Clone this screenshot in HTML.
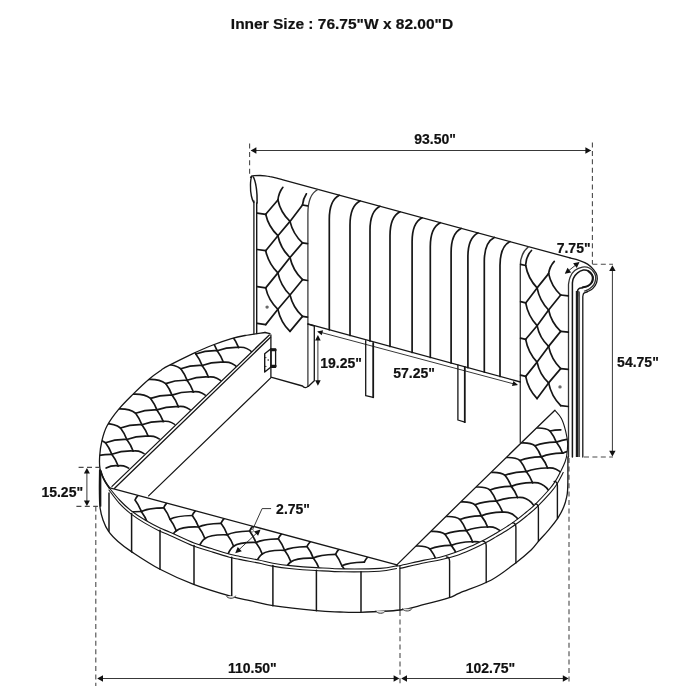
<!DOCTYPE html>
<html><head><meta charset="utf-8"><title>Bed dimensions</title>
<style>
html,body{margin:0;padding:0;background:#fff;}
body{width:700px;height:700px;overflow:hidden;position:relative;font-family:"Liberation Sans",Arial,sans-serif;}
svg{position:absolute;left:0;top:0;display:block;will-change:transform;transform:translateZ(0);}
svg path, svg line{fill:none;stroke:#161616;stroke-linecap:round;stroke-linejoin:round;}
svg text{font-family:"Liberation Sans",Arial,sans-serif;font-weight:bold;fill:#111;stroke:#111;stroke-width:0.2px;stroke-linejoin:round;}
.dim{stroke:#383838 !important;}
.dash{stroke:#4a4a4a !important;stroke-dasharray:5 3.4;stroke-linecap:butt !important;}
</style></head>
<body>
<svg width="700" height="700" viewBox="0 0 700 700">
<rect x="0" y="0" width="700" height="700" fill="#fff"/>
<text x="342" y="29" font-size="15.5" text-anchor="middle">Inner Size : 76.75&quot;W x 82.00&quot;D</text>
<text x="414.3" y="144" font-size="14" text-anchor="start">93.50&quot;</text>
<text x="556.7" y="252.5" font-size="14" text-anchor="start">7.75&quot;</text>
<text x="617.1" y="367.1" font-size="14" text-anchor="start">54.75&quot;</text>
<text x="320.2" y="367.9" font-size="14" text-anchor="start">19.25&quot;</text>
<text x="393.3" y="377.8" font-size="14" text-anchor="start">57.25&quot;</text>
<text x="41.4" y="496.9" font-size="14" text-anchor="start">15.25&quot;</text>
<text x="276.1" y="514" font-size="14" text-anchor="start">2.75&quot;</text>
<text x="228" y="673.1" font-size="14" text-anchor="start">110.50&quot;</text>
<text x="465.7" y="672.9" font-size="14" text-anchor="start">102.75&quot;</text>
<path class="dim" d="M252,150.5 L590,150.5" stroke-width="1"/>
<polygon points="250.6,150.5 256.4,147.3 256.4,153.7" fill="#111" stroke="none"/>
<polygon points="591.2,150.5 585.4,153.7 585.4,147.3" fill="#111" stroke="none"/>
<path class="dash" d="M249.6,143.5 L249.6,176" stroke-width="1.1"/>
<path class="dash" d="M592.4,142.5 L592.4,264" stroke-width="1.1"/>
<path class="dash" d="M592.4,264.3 L613,264.3" stroke-width="1.1"/>
<path class="dash" d="M584,457 L613,457" stroke-width="1.1"/>
<path class="dim" d="M612.4,268 L612.4,454" stroke-width="1"/>
<polygon points="612.4,265.2 615.6,271 609.2,271" fill="#111" stroke="none"/>
<polygon points="612.4,456.5 609.2,450.7 615.6,450.7" fill="#111" stroke="none"/>
<path class="dim" d="M566,272.8 L578.3,263" stroke-width="1"/>
<polygon points="564.8,273.8 567.5,267.8 571.2,272.5" fill="#111" stroke="none"/>
<polygon points="579.5,261.9 576.8,267.9 573.1,263.2" fill="#111" stroke="none"/>
<path class="dim" d="M317.9,338 L317.9,383" stroke-width="1"/>
<polygon points="317.9,335 320.7,340.5 315.1,340.5" fill="#111" stroke="none"/>
<polygon points="317.9,385.7 315.1,380.2 320.7,380.2" fill="#111" stroke="none"/>
<path class="dim" d="M319,331.9 L516,384.5" stroke-width="1"/>
<polygon points="317.1,331.4 323.1,330.3 321.7,335.3" fill="#111" stroke="none"/>
<polygon points="518,385 512,386.1 513.4,381.1" fill="#111" stroke="none"/>
<path class="dash" d="M78.6,467.4 L99.3,467.4" stroke-width="1.1"/>
<path class="dash" d="M76.4,506.4 L97.9,506.4" stroke-width="1.1"/>
<path class="dim" d="M86.9,470 L86.9,504" stroke-width="1"/>
<polygon points="86.9,467.9 89.9,473.6 83.9,473.6" fill="#111" stroke="none"/>
<polygon points="86.9,506.1 83.9,500.4 89.9,500.4" fill="#111" stroke="none"/>
<path class="dim" d="M270.7,508.6 L262.1,508.6 L252.1,530.7" stroke-width="1"/>
<circle cx="252.1" cy="530.7" r="1.4" fill="#fff" stroke="#333" stroke-width="0.6"/>
<path class="dim" d="M258.5,531.4 L237.2,551.4" stroke-width="1"/>
<polygon points="260.6,529.4 258.1,535.8 254,531.5" fill="#111" stroke="none"/>
<polygon points="235.2,553.3 237.7,546.9 241.8,551.2" fill="#111" stroke="none"/>
<path class="dash" d="M95.8,506.4 L95.8,686" stroke-width="1.1"/>
<path class="dash" d="M400,611 L400,685" stroke-width="1.1"/>
<path class="dash" d="M569,458 L569,684" stroke-width="1.1"/>
<path class="dim" d="M99,678.5 L397,678.5" stroke-width="1"/>
<polygon points="97.2,678.5 103,675.3 103,681.7" fill="#111" stroke="none"/>
<polygon points="399.4,678.5 393.6,681.7 393.6,675.3" fill="#111" stroke="none"/>
<path class="dim" d="M403,678.5 L566,678.5" stroke-width="1"/>
<polygon points="401.2,678.5 407,675.3 407,681.7" fill="#111" stroke="none"/>
<polygon points="568.6,678.5 562.8,681.7 562.8,675.3" fill="#111" stroke="none"/>
<path d="M250.6,177.4 C250.8,177.2 251,176.5 251.6,176.2 C252.2,175.9 252.9,175.8 254.3,175.7 C255.7,175.6 258.2,175.5 260,175.5 C261.8,175.5 263.3,175.6 265,175.8 C266.7,176 268.2,176.2 270,176.6 C271.8,176.9 273.5,177.3 275.7,177.9 C277.9,178.5 281.8,179.6 283,179.9 L570,257.9" stroke-width="1.3"/>
<path d="M570,257.9 C571.5,258.3 576.1,259.3 579,260.3 C581.9,261.3 585.2,262.5 587.6,264.1 C590,265.7 592,267.8 593.6,269.7 C595.2,271.6 596.5,273.5 597,275.7 C597.5,277.9 597.3,280.5 596.6,282.6 C595.9,284.8 594.2,287.1 592.7,288.6 C591.2,290.1 589.1,290.8 587.6,291.6 C586.1,292.4 584.6,292.5 583.8,293.3 C583,294.1 583,296 582.8,296.5 L582.8,457" stroke-width="1.3"/>
<path d="M568.5,457 L568.5,284.3  C568.8,283.1 569,279.7 570,277.4 C571,275.1 572.6,272.3 574.7,270.6 C576.8,268.9 580,267.5 582.4,267.1 C584.8,266.7 587.3,267 589.3,268 C591.3,269 593.3,271.4 594.4,273.1 C595.5,274.8 595.8,276.4 595.7,278.3 C595.6,280.2 595.1,282.5 594,284.3 C592.9,286.1 590.9,287.9 589.3,289 C587.7,290.1 585.3,290.7 584.5,291" stroke-width="1.3" style="stroke:#333"/>
<path d="M572.4,457 L572.4,283  C572.6,282.2 572.6,279.9 573.4,278.3 C574.2,276.7 575.6,274.5 577.3,273.1 C578.9,271.7 581.4,270.5 583.3,270.1 C585.1,269.8 586.9,270.2 588.4,271 C589.9,271.8 591.5,273.5 592.3,274.9 C593.1,276.2 593.2,277.7 593.1,279.1 C593,280.5 592.3,282.2 591.4,283.4 C590.5,284.6 589.1,285.7 587.6,286.4 C586.1,287.1 583.8,287.3 582.4,287.7 C581,288.1 579.8,288.1 579,288.6 C578.2,289.1 577.8,290.2 577.6,290.5 L577.6,296" stroke-width="1.5"/>
<path d="M588.4,271.2 C589,271.8 591.3,273.7 592,275 C592.7,276.3 592.8,277.7 592.6,279.1 C592.4,280.5 591.9,282.1 591,283.2 C590.1,284.3 588.8,285.3 587.4,286 C586,286.7 583.2,287.1 582.4,287.3" stroke-width="1.8"/>
<path d="M577.2,291 L577.2,457" stroke-width="2.8" style="stroke:#1c1c1c;stroke-linecap:butt"/>
<path d="M579.3,291.5 L579.3,457" stroke-width="1.5" style="stroke:#555;stroke-linecap:butt"/>
<path d="M251.8,176.6 C250.2,179 250,190 251.4,196 C252,199 252.8,201 253.8,202.5" stroke-width="1.4"/>
<path d="M253.4,177 C255.4,181 256.6,188 257,195 L257.1,203" stroke-width="1.5"/>
<path d="M253.9,201 L253.9,333.5" stroke-width="1.3"/>
<path d="M256.7,203 L256.7,333.5" stroke-width="1.4"/>
<path d="M307.9,386.4 L307.9,213.5 C307.9,201.5 310.9,193 317.9,189.5" stroke-width="1.3" style="stroke:#3c3c3c"/>
<path d="M329.3,329.8 L329.3,219.3 C329.3,207.3 332.3,198.8 339.3,195.3" stroke-width="1.7"/>
<path d="M350,335.4 L350,224.9 C350,212.9 353,204.4 360,200.9" stroke-width="1.7"/>
<path d="M370,340.9 L370,230.3 C370,218.3 373,209.8 380,206.3" stroke-width="1.7"/>
<path d="M390,346.4 L390,235.8 C390,223.8 393,215.3 400,211.8" stroke-width="1.7"/>
<path d="M412.1,352.4 L412.1,241.8 C412.1,229.8 415.1,221.3 422.1,217.8" stroke-width="1.7"/>
<path d="M430.3,357.4 L430.3,246.7 C430.3,234.7 433.3,226.2 440.3,222.7" stroke-width="1.7"/>
<path d="M451.1,363.1 L451.1,252.4 C451.1,240.4 454.1,231.9 461.1,228.4" stroke-width="1.7"/>
<path d="M467.9,367.7 L467.9,256.9 C467.9,244.9 470.9,236.4 477.9,232.9" stroke-width="1.7"/>
<path d="M484.3,372.1 L484.3,261.4 C484.3,249.4 487.3,240.9 494.3,237.4" stroke-width="1.7"/>
<path d="M500,376.4 L500,265.6 C500,253.6 503,245.1 510,241.6" stroke-width="1.7"/>
<path d="M520.3,442.5 L520.3,266 C520.3,258 523,251 528.5,246.7" stroke-width="1.4" style="stroke:#3c3c3c"/>
<path d="M525.7,264.5 C526.2,258 528,254 531.5,250.5" stroke-width="1.7"/>
<path d="M307.9,323.9 L520.4,382" stroke-width="1.3"/>
<path d="M307.9,324.2 L314.3,326 L314.3,380.7 L308.5,386.2" stroke-width="1.3"/>
<path d="M270.9,335 L270.9,377.2 L302.5,386 C304,388 306.5,388 307.9,386.4" stroke-width="1.3"/>
<path d="M365.7,340.7 L365.7,395.7 L373.2,397.3" stroke-width="1.3"/>
<path d="M373.2,342.9 L373.2,397.3" stroke-width="1.8"/>
<path d="M457.9,365 L457.9,420 L464.8,422.2" stroke-width="1.3"/>
<path d="M464.8,367 L464.8,422.2" stroke-width="1.8"/>
<path d="M264.7,353.8 L271,348.7 L271,367 L264.7,372 Z" stroke-width="1.4"/>
<path d="M271,348.8 L275.6,348.8 L275.6,367.3 L271,367.3" stroke-width="1.3"/>
<path d="M271.6,350 L275.4,350 M271.6,365.9 L275.4,365.9" stroke-width="2.4"/>
<circle cx="268.2" cy="360" r="0.8" fill="#222"/>
<circle cx="265.8" cy="366.4" r="0.7" fill="#222"/>
<circle cx="265.8" cy="357.6" r="0.7" fill="#222"/>
<path d="M265.7,214.3 L277.9,200" stroke-width="1.7"/>
<path d="M265.7,214.3 Q268.5,226.9 277.9,235.7" stroke-width="1.7"/>
<path d="M265.7,250.7 L277.9,235.7" stroke-width="1.7"/>
<path d="M265.7,250.7 Q268.5,263.6 277.9,272.9" stroke-width="1.7"/>
<path d="M265.7,287.9 L277.9,272.9" stroke-width="1.7"/>
<path d="M265.7,287.9 Q268.5,300.5 277.9,309.3" stroke-width="1.7"/>
<path d="M265.7,324.6 L277.9,309.3" stroke-width="1.7"/>
<path d="M277.9,200 Q280.6,212.6 290,221.4" stroke-width="1.7"/>
<path d="M277.9,235.7 L290,221.4" stroke-width="1.7"/>
<path d="M277.9,235.7 Q280.6,248.4 290,257.5" stroke-width="1.7"/>
<path d="M277.9,272.9 L290,257.5" stroke-width="1.7"/>
<path d="M277.9,272.9 Q280.6,285.8 290,295" stroke-width="1.7"/>
<path d="M277.9,309.3 L290,295" stroke-width="1.7"/>
<path d="M277.9,309.3 Q280.6,322.2 290,331.4" stroke-width="1.7"/>
<path d="M290,221.4 L302.5,205" stroke-width="1.7"/>
<path d="M290,221.4 Q293,234.1 302.5,242.9" stroke-width="1.7"/>
<path d="M290,257.5 L302.5,242.9" stroke-width="1.7"/>
<path d="M290,257.5 Q292.9,270.5 302.5,279.7" stroke-width="1.7"/>
<path d="M290,295 L302.5,279.7" stroke-width="1.7"/>
<path d="M290,295 Q293,307.6 302.5,316.4" stroke-width="1.7"/>
<path d="M290,331.4 L302.5,316.4" stroke-width="1.7"/>
<path d="M257.2,213.1 L265.7,214.3" stroke-width="1.7"/>
<path d="M257.2,249.5 L265.7,250.7" stroke-width="1.7"/>
<path d="M257.2,286.7 L265.7,287.9" stroke-width="1.7"/>
<path d="M257.2,323.4 L265.7,324.6" stroke-width="1.7"/>
<path d="M302.5,205 L307.5,205.8" stroke-width="1.7"/>
<path d="M302.5,242.9 L307.5,243.7" stroke-width="1.7"/>
<path d="M302.5,279.7 L307.5,280.5" stroke-width="1.7"/>
<path d="M302.5,316.4 L307.5,317.2" stroke-width="1.7"/>
<path d="M277.9,200 C278.5,195 280,191 282.9,187.3" stroke-width="1.7"/>
<path d="M302.5,205 C303,200 304.3,197 306.4,193.8" stroke-width="1.7"/>
<circle cx="267.1" cy="307.1" r="1.7" fill="#6a6a6a"/>
<path d="M525.7,265.5 Q528,278.4 537.1,287.9" stroke-width="1.7"/>
<path d="M525.7,302.9 L537.1,287.9" stroke-width="1.7"/>
<path d="M525.7,302.9 Q528,316 537.1,325.7" stroke-width="1.7"/>
<path d="M525.7,339.3 L537.1,325.7" stroke-width="1.7"/>
<path d="M525.7,339.3 Q528,352.4 537.1,362.1" stroke-width="1.7"/>
<path d="M525.7,376.4 L537.1,362.1" stroke-width="1.7"/>
<path d="M525.7,376.4 Q528,389.2 537.1,398.6" stroke-width="1.7"/>
<path d="M537.1,287.9 L548.6,273.6" stroke-width="1.7"/>
<path d="M537.1,287.9 Q539.5,300.7 548.6,310" stroke-width="1.7"/>
<path d="M537.1,325.7 L548.6,310" stroke-width="1.7"/>
<path d="M537.1,325.7 Q539.5,337.9 548.6,346.4" stroke-width="1.7"/>
<path d="M537.1,362.1 L548.6,346.4" stroke-width="1.7"/>
<path d="M537.1,362.1 Q539.5,374.3 548.6,382.9" stroke-width="1.7"/>
<path d="M537.1,398.6 L548.6,382.9" stroke-width="1.7"/>
<path d="M548.6,273.6 Q551.3,286.2 560.7,295" stroke-width="1.7"/>
<path d="M548.6,310 L560.7,295" stroke-width="1.7"/>
<path d="M548.6,310 Q551.3,322.6 560.7,331.4" stroke-width="1.7"/>
<path d="M548.6,346.4 L560.7,331.4" stroke-width="1.7"/>
<path d="M548.6,346.4 Q551.3,359.3 560.7,368.6" stroke-width="1.7"/>
<path d="M548.6,382.9 L560.7,368.6" stroke-width="1.7"/>
<path d="M548.6,382.9 Q551.3,396.1 560.7,405.7" stroke-width="1.7"/>
<path d="M520.6,264.3 L525.7,265.5" stroke-width="1.7"/>
<path d="M520.6,301.7 L525.7,302.9" stroke-width="1.7"/>
<path d="M520.6,338.1 L525.7,339.3" stroke-width="1.7"/>
<path d="M520.6,375.2 L525.7,376.4" stroke-width="1.7"/>
<path d="M560.7,295 L568.3,295.8" stroke-width="1.7"/>
<path d="M560.7,331.4 L568.3,332.2" stroke-width="1.7"/>
<path d="M560.7,368.6 L568.3,369.4" stroke-width="1.7"/>
<path d="M560.7,405.7 L568.3,406.5" stroke-width="1.7"/>
<path d="M548.6,273.6 C549.3,269 551,265 554.3,261.4" stroke-width="1.7"/>
<circle cx="560" cy="386.9" r="1.7" fill="#6a6a6a"/>
<path d="M265,332.5 C261.7,333 250.6,334.5 245,335.5 C239.4,336.5 236.8,337 231.4,338.6 C226.1,340.2 219.3,342.5 212.9,345 C206.5,347.5 200.3,350.2 192.9,353.6 C185.5,357.1 173.8,363 168.6,365.7 C163.3,368.4 164.6,367.8 161.4,370 C158.2,372.2 153.9,375 149.3,378.9 C144.7,382.8 138.7,388.5 133.6,393.6 C128.5,398.7 123,404 118.6,409.3 C114.2,414.6 109.8,420.6 107.1,425.7 C104.3,430.8 103.3,435 102.1,440 C100.9,445 100,450.9 99.7,455.7 C99.4,460.5 99.2,464.6 100,468.6 C100.8,472.7 102.8,476.8 104.3,480 C105.8,483.2 108.5,486.3 109.3,487.6" stroke-width="1.3"/>
<path d="M270,333.6 L265,332.5" stroke-width="1.3"/>
<path d="M109.1,487.6 C110.9,489.8 116.3,496.6 120,500.5 C123.7,504.4 127.3,507.8 131.5,511 C135.7,514.2 140.2,517.2 145,520 C149.8,522.8 155.8,526 160,528 C164.2,530 164.3,529.8 170,532.3 C175.7,534.8 187.1,540.4 194,543.1 C200.9,545.8 205.4,546.7 211.4,548.6 C217.4,550.5 225.2,553 230,554.3 C234.8,555.6 235.2,555.5 240,556.5 C244.8,557.5 253.1,558.9 258.6,560 C264.1,561.1 267.7,562.3 272.9,563.2 C278.1,564.1 282.8,564.9 290,565.6 C297.2,566.3 307.3,567.1 316.4,567.6 C325.4,568.1 333.7,568.8 344.3,568.9 C354.9,569 371.2,568.9 380,568.4 C388.8,567.9 394.3,566.1 397.2,565.6" stroke-width="1.1"/>
<path d="M109,490 C110.7,492.2 115.8,499.4 119.4,503.4 C123.1,507.4 126.7,510.6 130.9,513.9 C135.1,517.1 139.7,520.1 144.4,522.9 C149.2,525.7 155.2,528.9 159.4,530.9 C163.6,532.9 163.7,532.7 169.4,535.2 C175.1,537.7 186.5,543.3 193.4,546 C200.3,548.7 204.8,549.6 210.8,551.5 C216.8,553.4 224.6,555.9 229.4,557.2 C234.2,558.5 234.6,558.4 239.4,559.4 C244.2,560.4 252.5,561.8 258,562.9 C263.5,564 267.1,565.2 272.3,566.1 C277.5,567 282.1,567.8 289.4,568.5 C296.6,569.2 306.7,570 315.8,570.5 C324.8,571 333.1,571.7 343.7,571.8 C354.3,571.9 370.6,571.8 379.4,571.3 C388.2,570.8 393.7,569 396.6,568.5" stroke-width="1.1"/>
<path d="M397.2,565.6 C397.6,565.6 394.9,566.6 399.4,565.7 C403.9,564.8 417.5,561.5 424.3,560.1 C431.1,558.7 434.9,558.5 440,557.2 C445.1,556 450,554.4 455,552.6 C460,550.8 465,548.8 470,546.6 C475,544.4 480.8,541.5 485,539.4 C489.2,537.2 491.4,535.8 495,533.7 C498.6,531.6 502.6,529.4 506.4,526.9 C510.2,524.4 514.6,521.4 517.9,518.9 C521.2,516.4 523.5,514.4 526.4,512 C529.2,509.6 531.3,508.3 535,504.6 C538.7,500.9 545.3,493.9 548.7,490 C552.1,486.1 553.3,484.4 555.4,481.1 C557.5,477.8 559.8,473.2 561.4,470 C563,466.8 564.1,464.5 565,462 C565.9,459.5 566.4,458.2 566.8,455 C567.2,451.8 567.8,446.9 567.6,443 C567.4,439.1 566.7,435.5 565.7,431.4 C564.7,427.3 563.2,422.1 561.4,418.6 C559.6,415.1 556.1,411.9 555,410.5" stroke-width="1.1"/>
<path d="M400,568.4 C404.1,567.5 418.1,564.1 424.9,562.7 C431.7,561.3 435.4,561 440.6,559.8 C445.8,558.7 450.9,557.5 456,555.8 C461.1,554.1 466,552 471,549.8 C476,547.6 481.8,544.8 486,542.6 C490.2,540.5 492.3,539.1 496,536.9 C499.7,534.7 504.2,532.1 508.2,529.5 C512.1,526.9 516.4,524 519.7,521.5 C523,519 525.3,517 528.2,514.6 C531,512.2 533.1,510.9 536.8,507.2 C540.5,503.5 547.1,496.5 550.5,492.6 C553.9,488.7 555.1,487 557.2,483.7 C559.3,480.4 562.2,474.5 563.2,472.6" stroke-width="1.1"/>
<path d="M109.1,487.6 L396.9,564.9" stroke-width="1.3"/>
<path d="M112,486.4 L269.3,335" stroke-width="1.3"/>
<path d="M114.6,488.2 L270.5,337.3" stroke-width="1.3"/>
<path d="M148.6,495.9 L271,377.6" stroke-width="1.3"/>
<path d="M396.9,564.9 Q475.4,487.0 554.9,410.3" stroke-width="1.3"/>
<path d="M99.6,470 C99.6,473.3 99.3,483.8 99.4,490 C99.5,496.2 99.4,502.1 100,507.1 C100.6,512.1 101.6,516 103,520 C104.4,524 106.1,527.8 108.6,531.4 C111.1,535 114.2,538.1 118,541.5 C121.8,544.9 124.4,547 131.4,551.6 C138.4,556.2 149.6,563.8 160,569.3 C170.4,574.8 181.7,579.8 193.6,584.3 C205.5,588.8 222,593.7 231.4,596.4 C240.8,599.1 243.1,599.2 250,600.7 C256.9,602.2 261.8,604 272.9,605.7 C284,607.4 305.2,609.7 316.4,610.7 C327.6,611.8 332.7,611.7 340,612 C347.3,612.3 349.9,612.6 360,612.3 C370.1,612 389.6,611.3 400.3,610 C411,608.7 416.2,606.4 424.3,604.4 C432.4,602.4 442.7,599.8 448.6,597.9 C454.6,596 452.9,595.9 460,592.9 C467.1,589.9 482.1,585 491.4,580 C500.7,575 509.1,567.9 515.7,562.9 C522.3,557.9 527.3,553.6 531.1,550 C534.9,546.4 535.5,544.7 538.4,541.4 C541.3,538.1 545.1,534.1 548.3,530.3 C551.5,526.4 555.1,522.2 557.7,518.3 C560.3,514.4 562.2,510.7 563.7,507.1 C565.2,503.5 566.1,499.8 566.7,496.9 C567.4,494 567.4,493.6 567.6,490 C567.8,486.4 567.9,480.5 567.9,475 C567.9,469.5 567.9,460 567.9,457" stroke-width="1.3"/>
<path d="M100.5,471.5 L100.5,506" stroke-width="1.7"/>
<path d="M100.6,470.5 C100.9,471.4 101.6,474.1 102.4,476 C103.2,477.9 104.1,479.6 105.2,481.6 C106.3,483.6 108.5,486.8 109.2,487.8" stroke-width="1.7"/>
<path d="M109,493 L109,531.2" stroke-width="1.5"/>
<path d="M131.6,513.5 L131.6,552.1" stroke-width="1.5"/>
<path d="M160,530.3 L160,569.3" stroke-width="1.5"/>
<path d="M194,545.6 L194,584.3" stroke-width="1.5"/>
<path d="M231.7,557.2 L231.7,596.4" stroke-width="1.5"/>
<path d="M272.9,565.6 L272.9,605.7" stroke-width="1.5"/>
<path d="M316.4,570.2 L316.4,610.7" stroke-width="1.5"/>
<path d="M361,571.8 L361,611.5" stroke-width="1.5"/>
<path d="M446.4,557 Q449.4,556.8 449.6,561.2 L449.6,597.4" stroke-width="1.4"/>
<path d="M483,541.4 Q486,541.2 486.2,545.6 L486.2,582.5" stroke-width="1.4"/>
<path d="M512.7,522.9 Q515.7,522.7 515.9,527.1 L515.9,562.9" stroke-width="1.4"/>
<path d="M535.2,503.9 Q538.2,503.7 538.4,508.1 L538.4,541.4" stroke-width="1.4"/>
<path d="M554.2,481.4 Q557.2,481.2 557.4,485.6 L557.4,518.5" stroke-width="1.4"/>
<path d="M399.9,566 L399.9,610.2" stroke-width="1.2"/>
<path d="M226.4,596 C227.3,599.2 234.7,599.2 235.6,596" stroke-width="1" style="stroke:#444;fill:#ddd"/>
<path d="M376,611 C376.9,614.2 384.3,614.2 385.2,611" stroke-width="1" style="stroke:#444;fill:#ddd"/>
<path d="M402.6,608.7 C403.5,611.9 410.9,611.9 411.8,608.7" stroke-width="1" style="stroke:#444;fill:#ddd"/>
<defs>
<clipPath id="cL"><path d="M265,332.5 L263.4,332.7 L261.3,333 L258.7,333.4 L255.8,333.8 L252.9,334.2 L250,334.7 L247.3,335.1 L245,335.5 L243,335.9 L241.3,336.2 L239.6,336.5 L238.1,336.8 L236.6,337.2 L235,337.6 L233.3,338.1 L231.4,338.6 L229.3,339.2 L227.2,339.9 L224.9,340.7 L222.6,341.5 L220.2,342.3 L217.7,343.2 L215.3,344.1 L212.9,345 L210.5,345.9 L208.1,346.9 L205.7,347.9 L203.3,348.9 L200.8,350 L198.2,351.2 L195.6,352.3 L192.9,353.6 L190,355 L186.7,356.6 L183.4,358.2 L179.9,359.9 L176.6,361.6 L173.6,363.1 L170.8,364.5 L168.6,365.7 L166.9,366.6 L165.7,367.2 L164.9,367.7 L164.2,368.1 L163.7,368.4 L163.1,368.8 L162.4,369.3 L161.4,370 L160.1,370.9 L158.8,371.8 L157.4,372.7 L155.9,373.8 L154.3,374.9 L152.7,376.2 L151,377.5 L149.3,378.9 L147.5,380.5 L145.6,382.1 L143.6,383.9 L141.6,385.8 L139.6,387.8 L137.6,389.7 L135.6,391.7 L133.6,393.6 L131.7,395.5 L129.7,397.4 L127.8,399.4 L125.8,401.3 L123.9,403.3 L122.1,405.3 L120.3,407.3 L118.6,409.3 L117,411.3 L115.3,413.4 L113.7,415.5 L112.2,417.6 L110.8,419.7 L109.4,421.7 L108.2,423.7 L107.1,425.7 L106.1,427.6 L105.3,429.4 L104.6,431.2 L104,432.9 L103.5,434.6 L103,436.4 L102.6,438.2 L102.1,440 L101.7,441.9 L101.3,443.9 L100.9,445.9 L100.6,447.9 L100.3,450 L100,451.9 L99.9,453.9 L99.7,455.7 L99.6,457.5 L99.5,459.2 L99.4,460.8 L99.4,462.4 L99.5,464 L99.6,465.5 L99.8,467.1 L100,468.6 L100.3,470.1 L100.8,471.6 L101.3,473.2 L101.9,474.6 L102.5,476.1 L103.1,477.5 L103.7,478.8 L104.3,480 L104.9,481.2 L105.6,482.3 L106.3,483.5 L107.1,484.5 L107.8,485.5 L108.4,486.3 L108.9,487 L109.3,487.6 L269.3,335 L270,333.6 L265,332.5 Z"/></clipPath>
<clipPath id="cB"><path d="M109.1,487.6 L109.9,488.6 L111,490 L112.4,491.6 L113.8,493.4 L115.4,495.3 L117,497.1 L118.5,498.9 L120,500.5 L121.4,501.9 L122.8,503.3 L124.2,504.7 L125.6,506 L127,507.3 L128.5,508.5 L130,509.8 L131.5,511 L133.1,512.2 L134.7,513.4 L136.4,514.5 L138,515.7 L139.7,516.8 L141.5,517.9 L143.2,518.9 L145,520 L146.8,521.1 L148.8,522.2 L150.7,523.2 L152.7,524.3 L154.7,525.3 L156.6,526.3 L158.4,527.2 L160,528 L161.4,528.7 L162.5,529.2 L163.5,529.6 L164.4,530 L165.4,530.4 L166.6,530.9 L168.1,531.5 L170,532.3 L172.4,533.4 L175.2,534.7 L178.3,536.1 L181.5,537.6 L184.9,539.2 L188.1,540.6 L191.2,542 L194,543.1 L196.5,544 L198.8,544.8 L201,545.5 L203,546.2 L205.1,546.8 L207.1,547.3 L209.2,547.9 L211.4,548.6 L213.7,549.3 L216.2,550.1 L218.7,550.9 L221.2,551.7 L223.6,552.4 L225.9,553.1 L228.1,553.8 L230,554.3 L231.6,554.7 L232.9,555.1 L234,555.3 L235,555.5 L236,555.7 L237.1,555.9 L238.4,556.2 L240,556.5 L241.9,556.9 L244.1,557.3 L246.5,557.7 L249,558.2 L251.6,558.7 L254.1,559.1 L256.4,559.6 L258.6,560 L260.6,560.4 L262.4,560.8 L264.2,561.3 L265.8,561.7 L267.5,562.1 L269.2,562.5 L271,562.8 L272.9,563.2 L274.8,563.5 L276.8,563.9 L278.7,564.2 L280.7,564.5 L282.8,564.8 L285,565 L287.4,565.3 L290,565.6 L292.8,565.9 L295.9,566.1 L299.2,566.4 L302.5,566.7 L306,566.9 L309.5,567.2 L313,567.4 L316.4,567.6 L319.8,567.8 L323.1,568 L326.4,568.2 L329.8,568.4 L333.2,568.6 L336.7,568.7 L340.4,568.8 L344.3,568.9 L348.5,568.9 L353.1,569 L357.9,568.9 L362.8,568.9 L367.6,568.8 L372.2,568.7 L376.4,568.6 L380,568.4 L383.2,568.1 L386,567.8 L388.6,567.4 L390.8,567 L392.8,566.5 L394.5,566.2 L396,565.8 L397.2,565.6 L396.9,564.9 Z"/></clipPath>
<clipPath id="cR"><path d="M399.4,565.7 L401.4,565.2 L404.1,564.6 L407.3,563.9 L410.9,563.1 L414.5,562.2 L418.1,561.4 L421.5,560.7 L424.3,560.1 L426.7,559.6 L428.9,559.2 L430.9,558.9 L432.8,558.6 L434.6,558.3 L436.3,558 L438.1,557.6 L440,557.2 L441.9,556.7 L443.8,556.2 L445.7,555.7 L447.5,555.1 L449.4,554.5 L451.3,553.9 L453.1,553.3 L455,552.6 L456.9,551.9 L458.8,551.2 L460.6,550.5 L462.5,549.8 L464.4,549 L466.2,548.2 L468.1,547.4 L470,546.6 L471.9,545.7 L473.9,544.8 L475.8,543.9 L477.8,543 L479.7,542 L481.6,541.1 L483.4,540.2 L485,539.4 L486.5,538.6 L487.8,537.9 L489.1,537.2 L490.2,536.5 L491.4,535.9 L492.5,535.2 L493.7,534.5 L495,533.7 L496.4,532.9 L497.7,532.1 L499.2,531.3 L500.6,530.4 L502.1,529.6 L503.5,528.7 L505,527.8 L506.4,526.9 L507.9,525.9 L509.3,525 L510.8,523.9 L512.3,522.9 L513.8,521.9 L515.2,520.9 L516.6,519.9 L517.9,518.9 L519.1,518 L520.2,517.1 L521.3,516.3 L522.3,515.4 L523.3,514.6 L524.3,513.7 L525.4,512.9 L526.4,512 L527.4,511.1 L528.4,510.4 L529.4,509.6 L530.4,508.8 L531.4,507.9 L532.5,507 L533.7,505.9 L535,504.6 L536.5,503.1 L538.2,501.3 L540.1,499.4 L542,497.4 L543.9,495.4 L545.6,493.4 L547.3,491.6 L548.7,490 L549.9,488.6 L550.9,487.4 L551.8,486.3 L552.5,485.3 L553.2,484.3 L553.9,483.3 L554.6,482.3 L555.4,481.1 L556.2,479.8 L557,478.4 L557.8,477 L558.6,475.5 L559.4,474 L560.1,472.6 L560.8,471.3 L561.4,470 L562,468.8 L562.5,467.8 L563,466.7 L563.5,465.7 L563.9,464.8 L564.3,463.9 L564.7,462.9 L565,462 L565.3,461.1 L565.6,460.3 L565.9,459.5 L566.1,458.8 L566.3,457.9 L566.5,457.1 L566.6,456.1 L566.8,455 L567,453.7 L567.1,452.3 L567.3,450.8 L567.4,449.3 L567.5,447.7 L567.6,446.1 L567.6,444.5 L567.6,443 L567.5,441.5 L567.4,440.1 L567.2,438.7 L567,437.2 L566.7,435.8 L566.4,434.4 L566.1,432.9 L565.7,431.4 L565.3,429.8 L564.8,428.2 L564.4,426.5 L563.8,424.8 L563.3,423.1 L562.7,421.5 L562.1,420 L561.4,418.6 L560.7,417.3 L559.8,416.1 L558.9,414.9 L557.9,413.8 L557,412.7 L556.2,411.8 L555.5,411.1 L555,410.5 L475.9,487.4 L396.9,564.9 Z"/></clipPath>
</defs>
<g clip-path="url(#cL)">
<path d="M232.2,335.9 C234.6,339.1 237.1,343.7 238.5,347.4" stroke-width="1.7"/>
<path d="M238.5,347.4 C243,346.8 248,348 252.5,352.6 L257.5,358.9" stroke-width="1.7"/>
<path d="M210.8,339.2 C213.2,342.4 215.8,347 217.2,350.7 C219.5,353.9 222.1,358.5 223.4,362.2" stroke-width="1.7"/>
<path d="M217.2,350.7 Q227.5,346.9 238.5,347.4" stroke-width="1.7"/>
<path d="M223.4,362.2 C227.9,361.6 232.9,362.8 237.4,367.4 L242.4,373.7" stroke-width="1.7"/>
<path d="M189.5,342.5 C191.9,345.6 194.4,350.2 195.8,354 C198.2,357.1 200.7,361.8 202.1,365.5 C204.5,368.6 207,373.2 208.4,377" stroke-width="1.7"/>
<path d="M195.8,354 Q206.1,350.2 217.2,350.7" stroke-width="1.7"/>
<path d="M202.1,365.5 Q212.4,361.7 223.4,362.2" stroke-width="1.7"/>
<path d="M208.4,377 C212.9,376.4 217.9,377.6 222.4,382.2 L227.4,388.5" stroke-width="1.7"/>
<path d="M150.8,364.4 L164.1,364.5 C170.5,364.3 177.3,366.2 180.8,368.8 C183.1,371.9 185.7,376.6 187.1,380.3 C189.4,383.4 192,388.1 193.3,391.8" stroke-width="1.7"/>
<path d="M180.8,368.8 Q191.1,365 202.1,365.5" stroke-width="1.7"/>
<path d="M187.1,380.3 Q197.4,376.5 208.4,377" stroke-width="1.7"/>
<path d="M193.3,391.8 C197.8,391.2 202.8,392.4 207.3,397 L212.3,403.3" stroke-width="1.7"/>
<path d="M135.7,379.2 L149,379.3 C155.4,379.1 162.3,381 165.7,383.6 C168.1,386.8 170.6,391.4 172,395.1 C174.4,398.2 176.9,402.9 178.3,406.6" stroke-width="1.7"/>
<path d="M165.7,383.6 Q176,379.8 187.1,380.3" stroke-width="1.7"/>
<path d="M172,395.1 Q182.3,391.3 193.3,391.8" stroke-width="1.7"/>
<path d="M178.3,406.6 C182.8,406 187.8,407.2 192.3,411.8 L197.3,418.1" stroke-width="1.7"/>
<path d="M120.6,394 L133.9,394.1 C140.3,393.9 147.2,395.8 150.6,398.4 C153,401.6 155.6,406.2 156.9,409.9 C159.3,413.1 161.9,417.7 163.2,421.4" stroke-width="1.7"/>
<path d="M150.6,398.4 Q161,394.6 172,395.1" stroke-width="1.7"/>
<path d="M156.9,409.9 Q167.3,406.1 178.3,406.6" stroke-width="1.7"/>
<path d="M163.2,421.4 C167.7,420.8 172.7,422 177.2,426.6 L182.2,432.9" stroke-width="1.7"/>
<path d="M105.6,408.8 L118.9,408.9 C125.3,408.7 132.2,410.6 135.6,413.2 C138,416.4 140.5,421 141.9,424.7 C144.3,427.9 146.8,432.5 148.2,436.2" stroke-width="1.7"/>
<path d="M135.6,413.2 Q145.9,409.4 156.9,409.9" stroke-width="1.7"/>
<path d="M141.9,424.7 Q152.2,420.9 163.2,421.4" stroke-width="1.7"/>
<path d="M148.2,436.2 C152.7,435.6 157.7,436.8 162.2,441.4 L167.2,447.7" stroke-width="1.7"/>
<path d="M90.5,423.6 L103.8,423.7 C110.2,423.5 117.1,425.4 120.5,428 C122.9,431.1 125.5,435.8 126.8,439.5 C129.2,442.6 131.8,447.2 133.1,451" stroke-width="1.7"/>
<path d="M120.5,428 Q130.9,424.2 141.9,424.7" stroke-width="1.7"/>
<path d="M126.8,439.5 Q137.2,435.7 148.2,436.2" stroke-width="1.7"/>
<path d="M133.1,451 C137.6,450.4 142.6,451.6 147.1,456.2 L152.1,462.5" stroke-width="1.7"/>
<path d="M75.5,438.4 L88.8,438.5 C95.2,438.3 102.1,440.2 105.5,442.8 C107.9,445.9 110.4,450.6 111.8,454.3 C114.2,457.4 116.7,462.1 118.1,465.8" stroke-width="1.7"/>
<path d="M105.5,442.8 Q115.8,439 126.8,439.5" stroke-width="1.7"/>
<path d="M111.8,454.3 Q122.1,450.5 133.1,451" stroke-width="1.7"/>
<path d="M90.4,457.6 Q100.9,454.2 111.8,454.3" stroke-width="1.7"/>
<path d="M118.1,465.8 C122.6,465.2 127.6,466.4 132.1,471 L137.1,477.3" stroke-width="1.7"/>
<path d="M106.1,468 Q111.8,465.2 118.1,465.8" stroke-width="1.7"/>
</g>
<g clip-path="url(#cR)">
<path d="M410,545.8 L417.1,546 C423.5,545.8 426.6,546.4 430,549 C432.4,552.1 434.9,556.5 436.3,560.1" stroke-width="1.7"/>
<path d="M430,549 Q440.3,545.1 451.3,545.4" stroke-width="1.7"/>
<path d="M425,531.1 L432.1,531.3 C438.5,531.1 441.6,531.7 445,534.3 C447.4,537.3 449.9,541.8 451.3,545.4 C453.7,548.4 456.2,552.9 457.6,556.5" stroke-width="1.7"/>
<path d="M445,534.3 Q455.3,530.3 466.3,530.6" stroke-width="1.7"/>
<path d="M451.3,545.4 Q461.6,541.4 472.6,541.8" stroke-width="1.7"/>
<path d="M440,516.3 L447.1,516.5 C453.5,516.3 456.6,516.9 460,519.5 C462.4,522.6 464.9,527 466.3,530.6 C468.7,533.7 471.2,538.1 472.6,541.8" stroke-width="1.7"/>
<path d="M460,519.5 Q470.3,515.6 481.3,515.9" stroke-width="1.7"/>
<path d="M466.3,530.6 Q476.6,526.7 487.6,527" stroke-width="1.7"/>
<path d="M472.6,541.8 C477.1,541.1 482.1,542.4 486.6,547 L491.6,553.2" stroke-width="1.7"/>
<path d="M455,501.6 L462.1,501.8 C468.5,501.6 471.6,502.2 475,504.8 C477.4,507.8 479.9,512.3 481.3,515.9 C483.7,518.9 486.2,523.4 487.6,527" stroke-width="1.7"/>
<path d="M475,504.8 Q485.3,500.8 496.3,501.1" stroke-width="1.7"/>
<path d="M481.3,515.9 Q491.6,511.9 502.6,512.2" stroke-width="1.7"/>
<path d="M487.6,527 C492.1,526.4 497.1,527.6 501.6,532.2 L506.6,538.5" stroke-width="1.7"/>
<path d="M470,486.8 L477.1,487 C483.5,486.8 486.6,487.4 490,490 C492.4,493.1 494.9,497.5 496.3,501.1 C498.7,504.2 501.2,508.6 502.6,512.2" stroke-width="1.7"/>
<path d="M490,490 Q500.3,486.1 511.3,486.4" stroke-width="1.7"/>
<path d="M496.3,501.1 Q506.6,497.2 517.6,497.5" stroke-width="1.7"/>
<path d="M502.6,512.2 C507.1,511.6 512.1,512.9 516.6,517.5 L521.6,523.8" stroke-width="1.7"/>
<path d="M485,472.1 L492.1,472.3 C498.5,472.1 501.6,472.7 505,475.3 C507.4,478.3 509.9,482.8 511.3,486.4 C513.7,489.4 516.2,493.9 517.6,497.5" stroke-width="1.7"/>
<path d="M505,475.3 Q515.3,471.3 526.3,471.6" stroke-width="1.7"/>
<path d="M511.3,486.4 Q521.6,482.4 532.6,482.7" stroke-width="1.7"/>
<path d="M517.6,497.5 C522.1,496.9 527.1,498.1 531.6,502.7 L536.6,509" stroke-width="1.7"/>
<path d="M500,457.3 L507.1,457.5 C513.5,457.3 516.6,457.9 520,460.5 C522.4,463.6 524.9,468 526.3,471.6 C528.7,474.7 531.2,479.1 532.6,482.7" stroke-width="1.7"/>
<path d="M520,460.5 Q530.3,456.6 541.3,456.9" stroke-width="1.7"/>
<path d="M526.3,471.6 Q536.6,467.7 547.6,468" stroke-width="1.7"/>
<path d="M532.6,482.7 C537.1,482.1 542.1,483.3 546.6,487.9 L551.6,494.2" stroke-width="1.7"/>
<path d="M515,442.6 L522.1,442.8 C528.5,442.6 531.6,443.2 535,445.8 C537.4,448.8 539.9,453.3 541.3,456.9 C543.7,459.9 546.2,464.4 547.6,468" stroke-width="1.7"/>
<path d="M535,445.8 Q545.3,441.8 556.3,442.1" stroke-width="1.7"/>
<path d="M541.3,456.9 Q551.6,452.9 562.6,453.2" stroke-width="1.7"/>
<path d="M547.6,468 C552.1,467.4 557.1,468.6 561.6,473.2 L566.6,479.5" stroke-width="1.7"/>
<path d="M530,427.8 L537.1,428 C543.5,427.8 546.6,428.4 550,431 C552.4,434.1 554.9,438.5 556.3,442.1 C558.7,445.2 561.2,449.6 562.6,453.2" stroke-width="1.7"/>
<path d="M550,431 Q555.3,429.7 560.8,429.8" stroke-width="1.7"/>
<path d="M556.3,442.1 Q566.6,438.2 577.6,438.5" stroke-width="1.7"/>
<path d="M562.6,453.2 Q572.9,449.3 583.9,449.6" stroke-width="1.7"/>
</g>
<g clip-path="url(#cB)">
<path d="M138.6,494.6 Q135.8,497.8 135,500 C137.4,503.1 139.9,507.8 141.3,511.5 C143.7,514.7 146.2,519.2 147.6,523" stroke-width="1.7"/>
<path d="M141.3,511.5 C146.2,508.8 155.2,508 163.7,507.8" stroke-width="1.7"/>
<path d="M118.9,515.2 C123.9,512 132.8,511.5 141.3,511.5" stroke-width="1.7"/>
<path d="M167.3,502.4 Q164.5,505.6 163.7,507.8 C166.1,510.9 168.6,515.5 170,519.3 C172.3,522.4 174.9,527 176.3,530.8 M176.3,530.8 Q173.1,533 170.3,539.3" stroke-width="1.7"/>
<path d="M170,519.3 C174.9,516.5 183.8,515.7 192.3,515.5" stroke-width="1.7"/>
<path d="M176.3,530.8 C181.2,527.1 190.1,526.7 198.6,527" stroke-width="1.7"/>
<path d="M195.9,510.1 Q193.1,513.3 192.3,515.5 C194.7,518.7 197.2,523.3 198.6,527 C201,530.2 203.5,534.8 204.9,538.5 M204.9,538.5 Q201.7,540.7 198.9,547" stroke-width="1.7"/>
<path d="M198.6,527 C203.5,524.3 212.5,523.5 221,523.3" stroke-width="1.7"/>
<path d="M204.9,538.5 C209.8,534.9 218.8,534.5 227.3,534.8" stroke-width="1.7"/>
<path d="M224.6,517.9 Q221.8,521.1 221,523.3 C223.4,526.4 225.9,531 227.3,534.8 C229.7,537.9 232.2,542.5 233.6,546.3 M233.6,546.3 Q230.4,548.5 227.6,554.8" stroke-width="1.7"/>
<path d="M227.3,534.8 C232.2,532.1 241.1,531.3 249.6,531" stroke-width="1.7"/>
<path d="M233.6,546.3 C238.5,542.7 247.4,542.3 255.9,542.5" stroke-width="1.7"/>
<path d="M253.2,525.6 Q250.4,528.8 249.6,531 C252,534.2 254.5,538.8 255.9,542.5 C258.3,545.7 260.9,550.3 262.2,554 M262.2,554 Q259,556.2 256.2,562.5" stroke-width="1.7"/>
<path d="M255.9,542.5 C260.9,539.8 269.8,539 278.3,538.8" stroke-width="1.7"/>
<path d="M262.2,554 C267.2,550.4 276.1,550 284.6,550.3" stroke-width="1.7"/>
<path d="M281.9,533.4 Q279.1,536.6 278.3,538.8 C280.7,542 283.2,546.5 284.6,550.3 C287,553.5 289.5,558 290.9,561.8 M290.9,561.8 Q287.7,564 284.9,570.3" stroke-width="1.7"/>
<path d="M284.6,550.3 C289.5,547.6 298.5,546.8 307,546.6" stroke-width="1.7"/>
<path d="M290.9,561.8 C295.8,558.2 304.8,557.8 313.3,558.1" stroke-width="1.7"/>
<path d="M310.6,541.2 Q307.8,544.4 307,546.6 C309.4,549.7 311.9,554.3 313.3,558.1 C315.7,561.2 318.2,565.8 319.6,569.6" stroke-width="1.7"/>
<path d="M313.3,558.1 C318.2,555.3 327.1,554.5 335.6,554.3" stroke-width="1.7"/>
<path d="M339.2,548.9 Q336.4,552.1 335.6,554.3 C338,557.5 340.5,562.1 341.9,565.8 C344.3,569 346.8,573.6 348.2,577.3" stroke-width="1.7"/>
<path d="M341.9,565.8 C346.8,563.1 355.8,562.3 364.3,562.1" stroke-width="1.7"/>
<path d="M367.9,556.7 Q365.1,559.9 364.3,562.1" stroke-width="1.7"/>
</g>
</svg>
</body></html>
